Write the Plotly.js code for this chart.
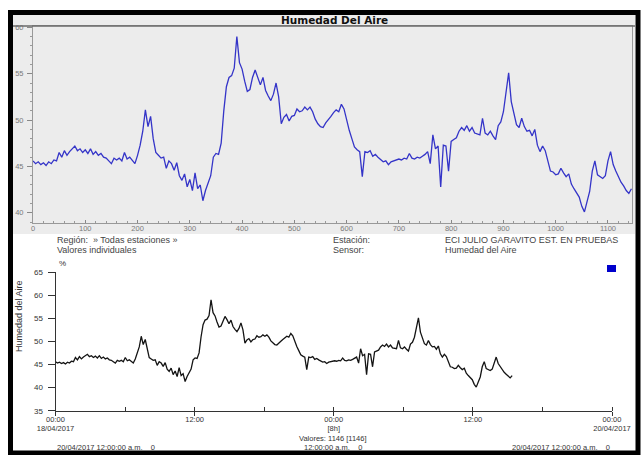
<!DOCTYPE html>
<html>
<head>
<meta charset="utf-8">
<script src="https://cdn.plot.ly/plotly-3.0.1.min.js"></script>
<style>html,body{margin:0;padding:0;background:#fff;}#chart{width:641px;height:455px;}</style>
</head>
<body>
<div id="chart"></div>
<script>
// Humidity readings, every 5th of the 1146 values
const humidity = [
  45.6,45.3,45.5,45.2,45.4,45.1,45.5,45.3,45.7,45.6,
  46.5,46.0,46.7,46.2,46.6,46.9,47.2,46.7,46.9,46.5,
  46.8,46.4,46.9,46.3,46.6,46.2,46.4,46.0,45.9,45.6,
  45.3,45.9,45.7,45.9,45.6,46.5,45.8,46.0,45.6,45.3,
  46.2,47.3,48.8,51.1,49.3,50.4,48.0,46.5,46.2,45.9,
  46.0,44.8,45.6,45.3,44.6,45.4,44.0,43.5,44.2,42.8,
  43.6,42.4,44.3,42.6,43.0,41.3,42.4,43.3,44.0,46.0,
  46.4,46.3,47.5,51.0,53.6,54.6,54.8,55.6,59.0,56.2,
  55.5,54.2,53.1,53.3,54.6,55.4,54.7,53.8,54.6,53.2,
  52.6,52.1,52.8,54.0,52.5,49.6,50.3,50.6,49.9,50.4,
  50.5,51.2,50.9,51.0,51.4,51.1,51.4,50.9,50.1,49.6,
  49.3,49.2,49.7,50.0,50.4,50.8,51.1,50.9,51.7,51.2,
  49.9,48.9,48.0,47.1,46.8,46.6,43.9,46.6,46.5,46.7,
  46.1,46.3,46.0,45.7,45.5,45.6,45.2,45.5,45.6,45.7,
  45.8,45.7,45.9,45.8,46.4,45.9,45.8,46.0,45.9,46.1,
  46.3,46.6,45.3,48.4,46.9,47.2,42.8,47.3,47.2,44.5,
  47.7,47.9,48.1,48.8,49.2,48.9,49.4,48.8,49.2,48.6,
  48.5,48.4,50.2,48.6,48.4,48.8,48.3,47.9,49.4,49.8,
  50.9,52.8,55.1,52.0,50.6,49.5,49.2,50.2,49.3,48.8,
  48.9,48.3,49.0,47.3,46.6,47.2,46.7,45.6,44.5,44.4,
  44.1,44.2,44.8,44.3,43.9,44.2,43.1,42.6,42.1,41.7,
  40.7,40.1,41.2,42.3,44.5,45.6,44.1,43.9,43.7,44.0,
  45.6,46.6,45.2,44.5,43.8,43.3,42.9,42.4,42.1,42.6
];
const readingStep = 5;              // index step between kept readings
const minutesPerReading = 2.064;    // sampling interval of the station
const startDate = Date.UTC(2017, 3, 18, 0, 0, 0);

const topXTicks = [0,100,200,300,400,500,600,700,800,900,1000,1100];
const topYTicks = [40,45,50,55,60];
const bottomYTicks = [35,40,45,50,55,60,65];
const bottomXTickVals = ['2017-04-18 00:00','2017-04-18 12:00','2017-04-19 00:00','2017-04-19 12:00','2017-04-20 00:00'];
const bottomXTickText = ['00:00<br>18/04/2017','12:00','00:00<br>[8h]','12:00','00:00<br>20/04/2017'];

const readingIndex = humidity.map((_, i) => i * readingStep);
function fmt(ms){ return new Date(ms).toISOString().replace('T',' ').replace('Z',''); }
const readingTime = readingIndex.map(n => fmt(startDate + n * minutesPerReading * 60000));

const W = 641, H = 455;
const px = x => x / W;
const py = y => 1 - y / H;
const FONT = 'Liberation Sans, Arial, sans-serif';
const NB = '\u00a0';

const traces = [
  {x: readingIndex, y: humidity, type: 'scatter', mode: 'lines', xaxis: 'x', yaxis: 'y',
   line: {color: '#3434c8', width: 1.3}, hoverinfo: 'skip'},
  {x: readingTime, y: humidity, type: 'scatter', mode: 'lines', xaxis: 'x2', yaxis: 'y2',
   line: {color: '#141414', width: 1.3}, hoverinfo: 'skip'}
];

function ann(text, x, y, opts) {
  return Object.assign({text: text, x: px(x), y: py(y), xref: 'paper', yref: 'paper',
    showarrow: false, xanchor: 'left', yanchor: 'middle',
    font: {family: FONT, size: 9, color: '#444'}}, opts || {});
}

const layout = {
  width: W, height: H,
  margin: {l: 0, r: 0, t: 0, b: 0},
  paper_bgcolor: '#ffffff',
  plot_bgcolor: 'rgba(0,0,0,0)',
  showlegend: false,
  font: {family: FONT},
  xaxis: {
    domain: [px(33), px(632)], range: [0, 1146], anchor: 'y',
    tickmode: 'array', tickvals: topXTicks,
    ticks: 'inside', ticklen: 3, tickcolor: '#888',
    minor: {dtick: 20, tick0: 0, ticks: 'inside', ticklen: 2, tickcolor: '#999'},
    showline: true, linecolor: '#999', linewidth: 1, mirror: true,
    showgrid: false, zeroline: false, ticklabelstandoff: -2,
    tickfont: {family: FONT, size: 7.5, color: '#7a7a7a'}
  },
  yaxis: {
    domain: [py(223), py(26)], range: [38.9, 60.15], anchor: 'x',
    tickmode: 'array', tickvals: topYTicks,
    ticks: 'outside', ticklen: 5, tickcolor: '#888',
    minor: {dtick: 1, tick0: 40, ticks: 'outside', ticklen: 2, tickcolor: '#999'},
    showline: true, linecolor: '#999', linewidth: 1, mirror: true,
    showgrid: false, zeroline: false, ticklabelstandoff: 2,
    tickfont: {family: FONT, size: 7.5, color: '#7a7a7a'}
  },
  xaxis2: {
    type: 'date', domain: [px(55.5), px(612)], anchor: 'y2',
    range: ['2017-04-18 00:00', '2017-04-20 00:00'],
    tickmode: 'array', tickvals: bottomXTickVals, ticktext: bottomXTickText,
    ticks: 'outside', ticklen: 4, tickcolor: '#333',
    minor: {dtick: 21600000, tick0: '2017-04-18', ticks: 'inside', ticklen: 4, tickcolor: '#333'},
    showline: true, linecolor: '#333', linewidth: 1,
    showgrid: false, zeroline: false, ticklabelstandoff: -3,
    tickfont: {family: FONT, size: 7.5, color: '#333'}
  },
  yaxis2: {
    domain: [py(410.7), py(272)], range: [35, 65], anchor: 'x2',
    tickmode: 'array', tickvals: bottomYTicks,
    ticks: 'outside', ticklen: 7, tickcolor: '#333',
    showline: true, linecolor: '#333', linewidth: 1,
    showgrid: false, zeroline: false, ticklabelstandoff: 3,
    tickfont: {family: FONT, size: 8, color: '#333'}
  },
  shapes: [
    {type: 'rect', xref: 'paper', yref: 'paper', x0: px(13), x1: px(635), y0: py(234), y1: py(15),
     fillcolor: '#ececec', line: {width: 0}, layer: 'below'},
    {type: 'line', xref: 'paper', yref: 'paper', x0: px(13), x1: px(635), y0: py(26), y1: py(26),
     line: {color: '#6a6a6a', width: 1.5}, layer: 'above'},
    {type: 'rect', xref: 'paper', yref: 'paper', x0: px(607), x1: px(616), y0: py(272), y1: py(265),
     fillcolor: '#0000cc', line: {width: 0}},
    {type: 'rect', xref: 'paper', yref: 'paper', x0: px(10.5), x1: px(638), y0: py(453), y1: py(12.5),
     line: {color: '#000', width: 5}, fillcolor: 'rgba(0,0,0,0)', layer: 'above'}
  ],
  annotations: [
    ann('<b>Humedad Del Aire</b>', 334, 20, {xanchor: 'center', font: {family: 'DejaVu Sans, sans-serif', size: 10.5, color: '#111'}}),
    ann('Región: ' + NB + '» Todas estaciones »', 55, 239.5),
    ann('Valores individuales', 55, 250),
    ann('Estación:', 331, 239.5),
    ann('Sensor:', 331, 250),
    ann('ECI JULIO GARAVITO EST. EN PRUEBAS', 443, 239.5),
    ann('Humedad del Aire', 443, 250),
    ann('%', 57, 263, {font: {family: FONT, size: 8, color: '#333'}}),
    ann('Humedad del Aire', 19, 316, {xanchor: 'center', textangle: -90, font: {family: FONT, size: 9, color: '#333'}}),
    ann('Valores: 1146 [1146]', 333, 438.5, {xanchor: 'center', font: {family: FONT, size: 7.5, color: '#333'}}),
    ann('12:00:00 a.m.' + NB + NB + NB + NB + '0', 333, 447.5, {xanchor: 'center', font: {family: FONT, size: 7.5, color: '#333'}}),
    ann('20/04/2017 12:00:00 a.m.' + NB + NB + NB + NB + '0', 55, 447.5, {font: {family: FONT, size: 7.5, color: '#333'}}),
    ann('20/04/2017 12:00:00 a.m.' + NB + NB + NB + NB + '0', 612, 447.5, {xanchor: 'right', font: {family: FONT, size: 7.5, color: '#333'}})
  ]
};

Plotly.newPlot('chart', traces, layout, {displayModeBar: false, staticPlot: true});
</script>
</body>
</html>
